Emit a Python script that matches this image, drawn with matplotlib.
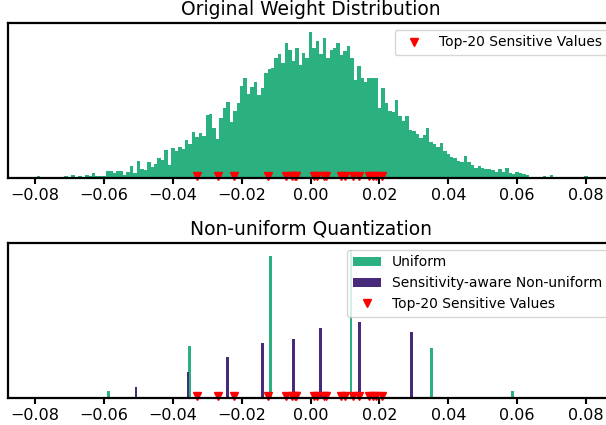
import numpy as np
import matplotlib
matplotlib.use("Agg")
import matplotlib.pyplot as plt

# ---------------- data ----------------
# top histogram: bins of 0.001 starting at -0.0795, heights (counts, arbitrary units)
hist_start = -0.0795
hist_width = 0.001
hist_counts = [
    1.7, 0.7, 0, 0, 0.7, 1, 0, 0, 2, 0,
    2.7, 0, 2, 0.7, 3, 2, 5, 2, 2, 2,
    7, 7, 5.5, 7, 7, 3, 6, 12, 5, 17,
    9, 8, 16, 11, 14, 20, 18, 28, 13, 30,
    27, 31, 29, 38, 34, 46, 41, 45, 42, 63,
    64, 50, 39, 60, 70, 76, 56, 67, 75, 92,
    100, 84, 91, 96, 83, 90, 105, 109, 110, 120,
    124, 115, 135, 128, 117, 130, 113, 125, 120, 146,
    130, 137, 124, 140, 120, 128, 130, 135, 123, 127,
    132, 120, 98, 112, 100, 96, 100, 100, 100, 70,
    90, 75, 67, 66, 78, 62, 57, 62, 48, 47,
    44, 40, 43, 50, 36, 34, 31, 35, 27, 24,
    21, 20, 17, 16, 22, 16, 13, 10, 12, 10,
    9, 9, 8, 6, 9, 6, 10, 5, 4, 6,
    5, 4, 3, 1.5, 1, 0, 0.5, 2, 1, 3,
    1.5, 0, 0, 1, 0, 0, 0, 0, 0, 2,
]

# top-20 sensitive weight values
sensitive = [-0.0330, -0.0269, -0.0222, -0.0124, -0.0071, -0.0055, -0.0046, -0.0041,
             0.0009, 0.0020, 0.0038, 0.0046, 0.0089, 0.0100, 0.0123, 0.0140,
             0.0171, 0.0181, 0.0190, 0.0207]

# quantized weights: level positions and counts
uniform_levels = [-0.0587, -0.0352, -0.0117, 0.0117, 0.0352, 0.0587]
uniform_counts = [4.9, 35.5, 96, 100, 34, 4.9]
nonuni_levels = [-0.0507, -0.0356, -0.0242, -0.0140, -0.0050, 0.0028, 0.0143, 0.0294]
nonuni_counts = [7.7, 17.9, 28, 37.5, 40, 47.7, 51.7, 45]

GREEN = "#2bb07f"
PURPLE = "#472b7a"

# ---------------- figure ----------------
plt.rcParams["font.family"] = "DejaVu Sans"
fig = plt.figure(figsize=(6.06, 4.25), dpi=100)
ax1 = fig.add_axes([0.0132, 0.581, 1.001, 0.365])
ax2 = fig.add_axes([0.0132, 0.0635, 1.001, 0.365])

edges = hist_start + hist_width * np.arange(len(hist_counts))
ax1.bar(edges, hist_counts, width=hist_width, align="edge", color=GREEN, linewidth=0)
ax1.plot(sensitive, [2.5] * len(sensitive), "v", color="red", markersize=6,
         linestyle="none", label="Top-20 Sensitive Values", clip_on=False)
ax1.set_ylim(0, 155)
ax1.set_title("Original Weight Distribution", fontsize=13.5)
ax1.legend(loc="upper right", fontsize=10)

qw = 0.0008
b1 = ax2.bar(uniform_levels, uniform_counts, width=qw, color=GREEN, linewidth=0,
             label="Uniform")
b2 = ax2.bar(nonuni_levels, nonuni_counts, width=qw, color=PURPLE, linewidth=0,
             label="Sensitivity-aware Non-uniform")
m2, = ax2.plot(sensitive, [1.7] * len(sensitive), "v", color="red", markersize=6,
               linestyle="none", label="Top-20 Sensitive Values", clip_on=False)
ax2.set_ylim(0, 105)
ax2.set_title("Non-uniform Quantization", fontsize=13.5)
ax2.legend(handles=[b1, b2, m2], loc="upper right", fontsize=10)

for ax in (ax1, ax2):
    ax.set_xlim(-0.0879, 0.0883)
    ax.set_xticks([-0.08, -0.06, -0.04, -0.02, 0.0, 0.02, 0.04, 0.06, 0.08])
    ax.set_yticks([])
    ax.tick_params(axis="x", labelsize=11.5, width=1.5, length=4)
    for s in ax.spines.values():
        s.set_linewidth(1.6)

fig.savefig("out.png", dpi=100)
